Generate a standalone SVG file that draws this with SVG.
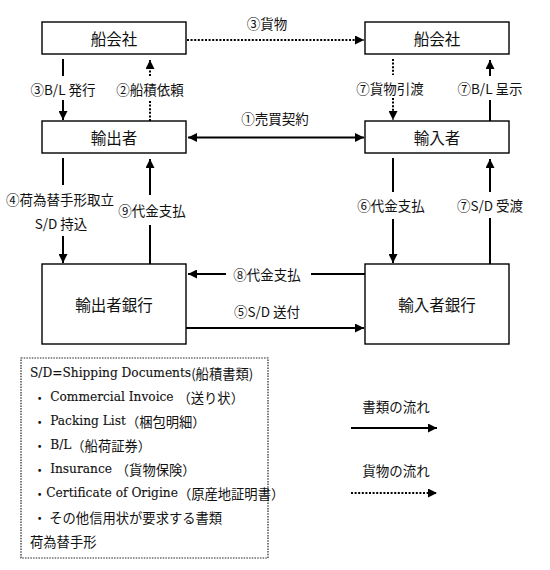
<svg xmlns="http://www.w3.org/2000/svg" width="550" height="570" viewBox="0 0 550 570">
<style>
.box{fill:#fff;stroke:#000;stroke-width:1.4}
.bt{font-family:"Noto Sans CJK JP",sans-serif;font-size:15.5px;fill:#111;text-anchor:middle;dominant-baseline:central}
.lb{font-family:"Noto Sans CJK JP",sans-serif;font-size:13.5px;fill:#111;text-anchor:middle;dominant-baseline:central}
.s{fill:none;stroke:#000;stroke-width:2}
.d{fill:none;stroke:#000;stroke-width:2;stroke-dasharray:2 1.6}
.lg{font-family:"DejaVu Serif","Noto Sans CJK JP",serif;font-size:12.2px;fill:#111;stroke:#111;stroke-width:0.12;dominant-baseline:central}
.jp{font-family:"Noto Sans CJK JP",sans-serif;font-size:13.3px;stroke:none}
</style>
<defs>
<marker id="ah" markerWidth="9" markerHeight="9" refX="9" refY="4.5" orient="auto" markerUnits="userSpaceOnUse">
<path d="M0,0 L9,4.5 L0,9 Z" fill="#000"/>
</marker>
<marker id="as" markerWidth="9" markerHeight="9" refX="0" refY="4.5" orient="auto" markerUnits="userSpaceOnUse">
<path d="M9,0 L0,4.5 L9,9 Z" fill="#000"/>
</marker>
</defs>
<rect width="550" height="570" fill="#fff"/>

<g id="connectors">
<line class="d" x1="187" y1="40" x2="364" y2="40" marker-end="url(#ah)"/>
<text class="lb" x="267" y="23">③貨物</text>
<line class="s" x1="63" y1="59" x2="63" y2="76"/>
<line class="s" x1="63" y1="100" x2="63" y2="120" marker-end="url(#ah)"/>
<text class="lb" x="63" y="89">③B/L 発行</text>
<line class="d" x1="150" y1="121" x2="150" y2="100"/>
<line class="d" x1="150" y1="76" x2="150" y2="60" marker-end="url(#ah)"/>
<text class="lb" x="150" y="89">②船積依頼</text>
<line class="d" x1="393" y1="59" x2="393" y2="75"/>
<line class="d" x1="393" y1="98" x2="393" y2="120" marker-end="url(#ah)"/>
<text class="lb" x="390" y="88">⑦貨物引渡</text>
<line class="s" x1="490" y1="121" x2="490" y2="100"/>
<line class="s" x1="490" y1="76" x2="490" y2="60" marker-end="url(#ah)"/>
<text class="lb" x="490" y="88">⑦B/L 呈示</text>
<line class="s" x1="188" y1="137.5" x2="364" y2="137.5" marker-start="url(#as)" marker-end="url(#ah)"/>
<text class="lb" x="275" y="118">①売買契約</text>
<line class="s" x1="63" y1="158" x2="63" y2="185"/>
<line class="s" x1="63" y1="236" x2="63" y2="263" marker-end="url(#ah)"/>
<text class="lb" x="60" y="199">④荷為替手形取立</text>
<text class="lb" x="61" y="223">S/D 持込</text>
<line class="s" x1="150" y1="264" x2="150" y2="225"/>
<line class="s" x1="150" y1="195" x2="150" y2="159" marker-end="url(#ah)"/>
<text class="lb" x="152" y="210">⑨代金支払</text>
<line class="s" x1="393" y1="158" x2="393" y2="192"/>
<line class="s" x1="393" y1="219" x2="393" y2="263" marker-end="url(#ah)"/>
<text class="lb" x="391" y="205">⑥代金支払</text>
<line class="s" x1="490" y1="264" x2="490" y2="218"/>
<line class="s" x1="490" y1="192" x2="490" y2="159" marker-end="url(#ah)"/>
<text class="lb" x="490" y="205">⑦S/D 受渡</text>
<line class="s" x1="365" y1="274" x2="311" y2="274"/>
<line class="s" x1="226" y1="274" x2="188" y2="274" marker-end="url(#ah)"/>
<text class="lb" x="267" y="274">⑧代金支払</text>
<line class="s" x1="186" y1="328" x2="364" y2="328" marker-end="url(#ah)"/>
<text class="lb" x="267" y="311">⑤S/D 送付</text>
</g>

<g id="n-ship-left"><rect class="box" x="42" y="22" width="144" height="32"/><text class="bt" x="114" y="38">船会社</text></g>
<g id="n-ship-right"><rect class="box" x="365" y="22" width="144" height="32"/><text class="bt" x="437" y="38">船会社</text></g>
<g id="n-exporter"><rect class="box" x="42" y="121" width="144" height="32"/><text class="bt" x="114" y="137">輸出者</text></g>
<g id="n-importer"><rect class="box" x="365" y="121" width="144" height="32"/><text class="bt" x="437" y="137">輸入者</text></g>
<g id="n-exp-bank"><rect class="box" x="42" y="264" width="144" height="80"/><text class="bt" x="114" y="304">輸出者銀行</text></g>
<g id="n-imp-bank"><rect class="box" x="365" y="264" width="144" height="80"/><text class="bt" x="437" y="304">輸入者銀行</text></g>

<g id="legend-box">
<rect x="21" y="358" width="247" height="200" fill="none" stroke="#222" stroke-width="1.2" stroke-dasharray="1.5 1.2"/>
<text class="lg" x="30" y="373">S/D=Shipping Documents<tspan class="jp">(船積書類)</tspan></text>
<text class="lg" x="33" y="397"><tspan class="jp">・</tspan> Commercial Invoice <tspan class="jp">（送り状）</tspan></text>
<text class="lg" x="33" y="421"><tspan class="jp">・</tspan> Packing List<tspan class="jp">（梱包明細）</tspan></text>
<text class="lg" x="33" y="445"><tspan class="jp">・</tspan> B/L<tspan class="jp">（船荷証券）</tspan></text>
<text class="lg" x="33" y="469"><tspan class="jp">・</tspan> Insurance <tspan class="jp">（貨物保険）</tspan></text>
<text class="lg" x="33" y="493"><tspan class="jp">・</tspan>Certificate of Origine<tspan class="jp">（原産地証明書）</tspan></text>
<text class="lg" x="33" y="517"><tspan class="jp">・ その他信用状が要求する書類</tspan></text>
<text class="lg" x="30" y="541"><tspan class="jp">荷為替手形</tspan></text>
</g>

<g id="legend-keys">
<text class="lb" x="396" y="406">書類の流れ</text>
<line class="s" x1="351" y1="428" x2="437" y2="428" marker-end="url(#ah)"/>
<text class="lb" x="396" y="470">貨物の流れ</text>
<line class="d" x1="351" y1="493" x2="437" y2="493" marker-end="url(#ah)"/>
</g>
</svg>
